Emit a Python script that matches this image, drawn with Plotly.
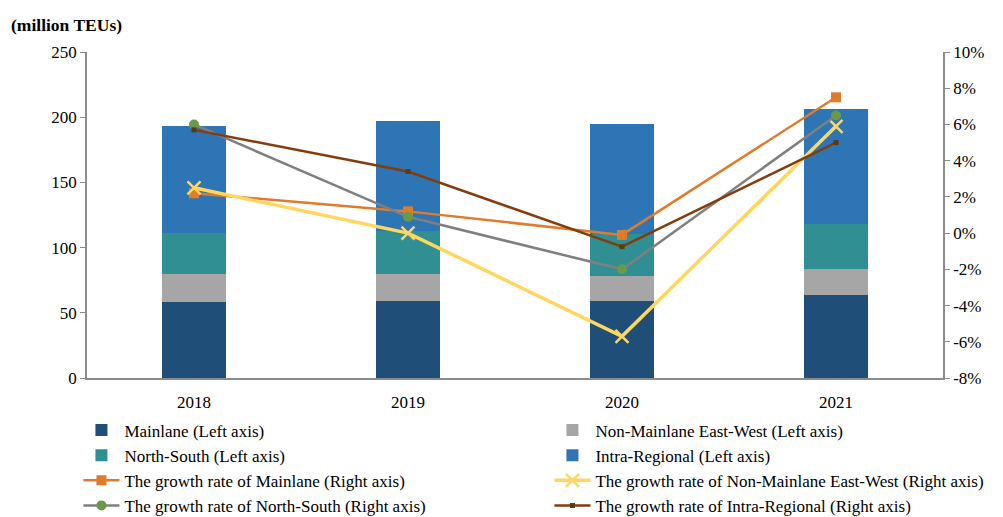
import plotly.graph_objects as go

years = ["2018", "2019", "2020", "2021"]

# Container volumes by trade lane (million TEUs)
mainlane = [58.5, 59.0, 59.0, 63.6]
non_mainlane_ew = [21.0, 21.0, 19.5, 20.0]
north_south = [31.9, 32.7, 31.7, 34.5]
intra_regional = [82.1, 84.1, 84.3, 88.2]

# Year-on-year growth rates (%)
growth_mainlane = [2.2, 1.2, -0.1, 7.5]
growth_non_mainlane_ew = [2.5, 0.0, -5.7, 5.9]
growth_north_south = [6.0, 0.9, -2.0, 6.5]
growth_intra_regional = [5.7, 3.4, -0.75, 5.0]

left_ticks = [0, 50, 100, 150, 200, 250]
right_ticks = [-8, -6, -4, -2, 0, 2, 4, 6, 8, 10]

FONT = "Liberation Serif, Times New Roman, serif"
AXIS_GREY = "#8c8c8c"

fig = go.Figure()

bar_series = [
    ("Mainlane (Left axis)", mainlane, "#1f4e79"),
    ("Non-Mainlane East-West (Left axis)", non_mainlane_ew, "#a6a6a6"),
    ("North-South (Left axis)", north_south, "#2f8f93"),
    ("Intra-Regional (Left axis)", intra_regional, "#2e75b6"),
]
for name, vals, col in bar_series:
    fig.add_trace(go.Bar(
        x=years, y=vals, name=name, marker=dict(color=col, line=dict(width=0)),
        yaxis="y",
    ))

line_series = [
    ("The growth rate of Mainlane (Right axis)", growth_mainlane,
     "#e07b2c", 2.5, dict(symbol="square", size=10, color="#e07b2c")),
    ("The growth rate of Non-Mainlane East-West (Right axis)", growth_non_mainlane_ew,
     "#ffd75e", 3.5, dict(symbol="x-thin", size=13, color="#ffd75e",
                          line=dict(width=2.5, color="#ffd75e"))),
    ("The growth rate of North-South (Right axis)", growth_north_south,
     "#7f7f7f", 2.5, dict(symbol="circle", size=10, color="#6a9a48")),
    ("The growth rate of Intra-Regional (Right axis)", growth_intra_regional,
     "#843c0c", 2.5, dict(symbol="square", size=5, color="#5a3a10")),
]
for name, vals, col, w, mk in line_series:
    fig.add_trace(go.Scatter(
        x=years, y=vals, name=name, mode="lines+markers",
        line=dict(color=col, width=w), marker=mk, yaxis="y2",
    ))

fig.update_layout(
    width=1003, height=517,
    margin=dict(l=87, r=60, t=52, b=139, autoexpand=False),
    paper_bgcolor="white", plot_bgcolor="white",
    font=dict(family=FONT, size=17, color="black"),
    barmode="stack", bargap=0.7,
    showlegend=True,
    legend=dict(
        orientation="h", x=-0.01, y=-0.106, xanchor="left", yanchor="top",
        entrywidth=420, entrywidthmode="pixels", traceorder="normal",
        font=dict(family=FONT, size=17, color="black"),
        tracegroupgap=0, itemwidth=36,
        bgcolor="rgba(0,0,0,0)",
    ),
    xaxis=dict(
        type="category", showgrid=False, showline=True, linecolor=AXIS_GREY,
        linewidth=1.5, ticks="", ticklabelstandoff=8, automargin=False,
        tickfont=dict(family=FONT, size=17), zeroline=False,
    ),
    yaxis=dict(
        range=[0, 250], tickvals=left_ticks, showgrid=False, showline=True,
        linecolor=AXIS_GREY, linewidth=1.5, ticks="outside", ticklen=5,
        tickcolor=AXIS_GREY, tickfont=dict(family=FONT, size=17), zeroline=False,
        automargin=False,
    ),
    yaxis2=dict(
        range=[-8, 10], tickvals=right_ticks,
        ticktext=[f"{v}%" for v in right_ticks], overlaying="y", side="right",
        showgrid=False, showline=True, linecolor=AXIS_GREY, linewidth=1.5,
        ticks="outside", ticklen=5, tickcolor=AXIS_GREY, automargin=False,
        tickfont=dict(family=FONT, size=17), zeroline=False,
    ),
    annotations=[dict(
        text="<b>(million TEUs)</b>", xref="paper", yref="paper",
        x=-0.091, y=1.083, xanchor="left", yanchor="middle", showarrow=False,
        font=dict(family=FONT, size=17.5, color="black"),
    )],
)

fig.write_html("out.html")
